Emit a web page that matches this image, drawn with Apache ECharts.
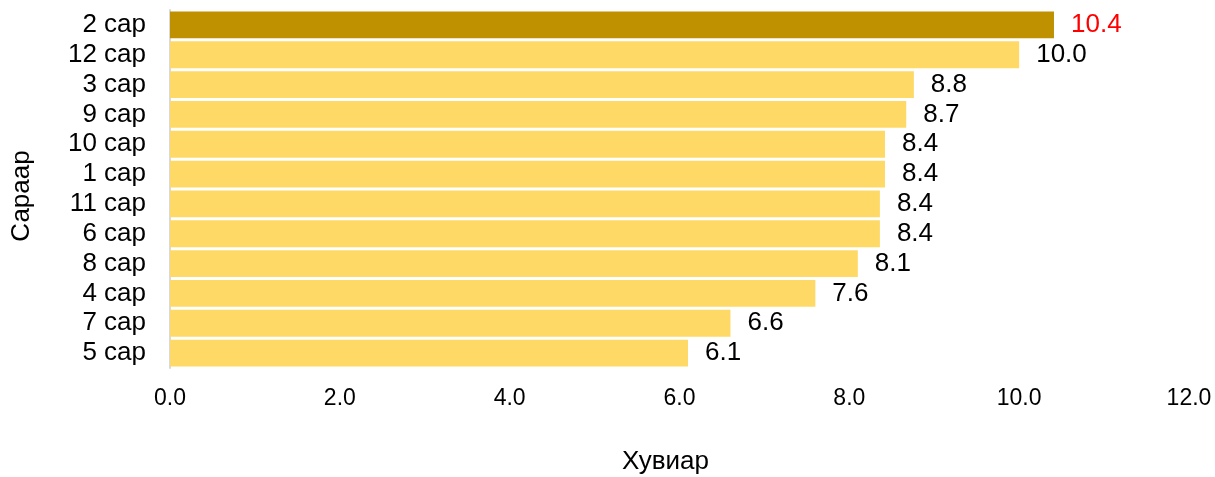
<!DOCTYPE html>
<html>
<head>
<meta charset="utf-8">
<script src="https://cdn.jsdelivr.net/npm/echarts@6/dist/echarts.min.js"></script>
<style>
html, body { margin: 0; padding: 0; background: #fff; }
#main { width: 1215px; height: 477px; }
</style>
</head>
<body>
<div id="main"></div>
<script>
// months, sorted from highest to lowest
var months = ['2 сар', '12 сар', '3 сар', '9 сар', '10 сар', '1 сар', '11 сар', '6 сар', '8 сар', '4 сар', '7 сар', '5 сар'];
var values = [10.41, 10.0, 8.76, 8.67, 8.42, 8.42, 8.36, 8.36, 8.1, 7.6, 6.6, 6.1];
var xTicks = [0, 2, 4, 6, 8, 10, 12];

var barColor = '#FFD966';
var topColor = '#BF9000';
var font = 'Liberation Sans, Arial, sans-serif';

var myChart = echarts.init(document.getElementById('main'));
var option = {
	animation: false,
	grid: {
		left: 170,
		right: 26,
		top: 10,
		bottom: 109,
		containLabel: false,
		outerBoundsMode: 'none'
	},
	xAxis: {
		type: 'value',
		min: xTicks[0],
		max: xTicks[xTicks.length - 1],
		interval: 2,
		name: 'Хувиар',
		nameLocation: 'middle',
		nameGap: 81,
		nameTextStyle: {
			color: '#000',
			fontSize: 26,
			fontFamily: font,
			padding: [0, 28, 0, 0]
		},
		axisLine: { show: false },
		axisTick: { show: false },
		splitLine: { show: false },
		axisLabel: {
			color: '#000',
			fontSize: 23,
			fontFamily: font,
			margin: 19,
			formatter: function (v) { return v.toFixed(1); }
		}
	},
	yAxis: {
		type: 'category',
		inverse: true,
		data: months,
		name: 'Сараар',
		nameLocation: 'middle',
		nameGap: 135,
		nameTextStyle: {
			color: '#000',
			fontSize: 26,
			fontFamily: font,
			padding: [0, 14, 0, 0]
		},
		axisLine: {
			show: true,
			lineStyle: { color: '#d9d9d9', width: 2 }
		},
		axisTick: { show: false },
		splitLine: { show: false },
		axisLabel: {
			interval: 0,
			color: '#000',
			fontSize: 26,
			fontFamily: font,
			margin: 24
		}
	},
	series: [{
		type: 'bar',
		barCategoryGap: '10%',
		data: values.map(function (v, i) {
			return {
				value: v,
				itemStyle: { color: i === 0 ? topColor : barColor },
				label: { color: i === 0 ? '#FF0000' : '#000' }
			};
		}),
		label: {
			show: true,
			position: 'right',
			distance: 17,
			fontSize: 26,
			fontFamily: font,
			formatter: function (p) { return p.value.toFixed(1); }
		}
	}]
};
myChart.setOption(option);
</script>
</body>
</html>
